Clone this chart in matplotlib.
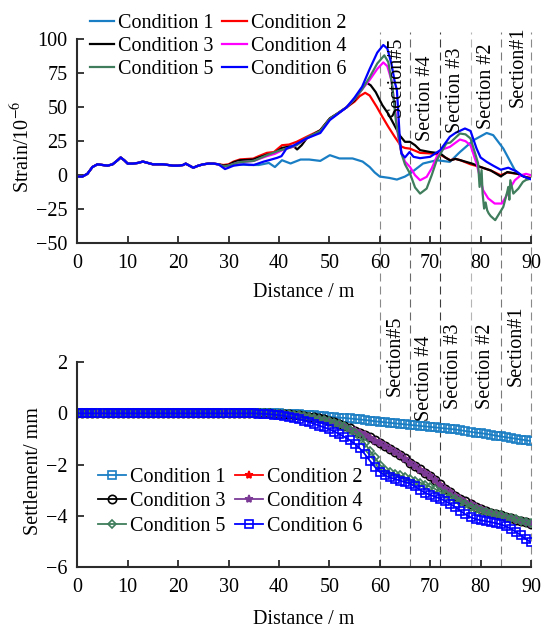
import matplotlib
matplotlib.use("Agg")
import matplotlib.pyplot as plt
from matplotlib import transforms
from matplotlib.lines import Line2D

plt.rcParams["font.family"] = ["Liberation Serif", "DejaVu Serif"]
plt.rcParams["mathtext.fontset"] = "stix"
FS = 14.5
plt.rcParams["font.size"] = FS

# ---- strain (top panel) ----
x_start = [0, 1, 2, 3, 4, 5, 6, 7, 8, 8.6, 9.3, 10, 11, 12, 13, 14, 15, 16,
           17, 18, 19, 20, 21, 21.5, 23, 24, 25, 26, 27, 28]
strain_start = [-1, -1, 1, 6, 8, 7.5, 7, 8, 11, 13, 11, 8.5, 8.5, 9, 10, 9,
                8, 8, 8, 7.5, 7, 7, 7.5, 8.5, 5.5, 7, 8, 8.5, 8.5, 8]

x_c1 = [29, 30, 32, 34, 36, 38, 39.2, 40.6, 42.3, 44.3, 46, 48.2, 50.1, 52,
        54.6, 56.6, 58, 59, 60, 61.9, 63.4, 65, 66, 68.6, 71.3, 73.9, 75.9,
        78.6, 81.2, 82.5, 84.5, 86.8, 88, 89, 90]
strain_c1 = [7, 7, 8, 7.5, 7.5, 9, 6, 11, 8.6, 11.5, 11.5, 10.5, 14.7, 12.3,
             12.3, 10, 6, 2, -1, -2, -3.2, -1, 1.2, 8.6, 11, 9.8, 17, 25.7,
             31, 29.4, 19.6, 3.7, 0, -1.5, -2]

x_c2 = [29, 30, 31, 32.3, 34.9, 36, 37.6, 39, 40.6, 42, 43.5, 45.5, 48.2,
        50.1, 51.5, 53.4, 55, 56, 57.1, 58, 59.4, 60.5, 61.7, 63, 64.3, 65,
        66, 68, 70, 72, 73, 74, 75, 76, 78, 80, 82, 84, 85.3, 87.4, 89, 90]
strain_c2 = [7.5, 8, 10, 11.6, 12.2, 14, 16.4, 17, 22, 22.5, 24.5, 28.2, 33,
             41.7, 45, 49.8, 54, 58, 60.5, 58.5, 50.2, 43, 35.5, 28, 21, 20,
             19.5, 16.4, 16, 15, 13, 11, 12, 11, 8, 6, 3.5, 0, 2, 1, -1.5, -2]

x_c3 = [29, 30, 31, 32.3, 34.9, 36, 37.6, 39, 40.6, 42, 43, 43.6, 44.5, 45.5,
        48.2, 50.1, 51.5, 53.4, 55, 56.3, 57.4, 58.2, 59.2, 60.5, 61.7, 63,
        64, 65, 66, 67, 68, 70, 72, 73, 74, 75, 76, 78.4, 80, 82, 84, 85.3,
        87.4, 89, 90]
strain_c3 = [7, 7.5, 9.5, 11, 11.5, 13, 15, 16, 20, 21, 21, 18.9, 22, 27, 33,
             41.7, 45, 49.8, 55, 63, 67.9, 66, 61, 51.5, 45, 36, 29, 24.5,
             24.5, 22, 18.4, 17, 16, 13, 10.8, 12, 11, 8.4, 6, 3.5, -0.9,
             2.3, 1, -1.5, -2.6]

x_c4 = [29, 30, 32, 35, 37.6, 39.2, 41, 43, 45.5, 48.2, 50.1, 53.4, 55, 56.5,
        58, 59.5, 60.7, 61.5, 62.3, 63, 63.6, 64.2, 65, 66, 67, 68, 69.3,
        70.3, 71.3, 72.5, 73.9, 75.9, 77, 78, 79.2, 80.5, 81.5, 82.8, 84.2,
        85, 85.8, 86.8, 88, 89, 90]
strain_c4 = [6, 7, 9.5, 10.5, 14, 15.7, 19, 21, 27, 32, 41, 49.8, 56, 63, 70,
             78, 82.8, 80, 70, 50, 30, 18, 10, 6, 0, -3.7, -1.2, 5, 13.5, 19,
             20.8, 26.2, 25, 22, 8.6, -11, -17, -20.8, -20.8, -16, -9.8,
             -3.7, 0, 1, 0]

x_c5 = [29, 30, 32, 35, 37.6, 40, 42, 43.5, 45.5, 48.2, 50.1, 53.4, 55, 56.5,
        58, 59.5, 60.9, 61.7, 62.5, 63.2, 64.3, 65, 66, 67, 68, 69.3, 70.3,
        71.3, 73.2, 74, 75.9, 77, 78, 79, 79.5, 79.8, 80.2, 80.4, 80.7, 81,
        81.3, 81.6, 82, 82.9, 84.5, 85.3, 85.5, 85.7, 85.9, 86.5, 87.5, 88.4,
        89, 90]
strain_c5 = [6.5, 7, 9.5, 10.5, 14.7, 18, 20, 22, 27.5, 32.5, 41.5, 49.8, 56,
             63, 72, 82, 88, 83, 65, 40, 15.9, 8, 1.2, -9, -13.5, -9.8, 0, 11,
             23.3, 24, 30.6, 30, 27, 15, 8.8, -8.6, 3.7, -13.5, -24.5, -20,
             -25.7, -28, -30, -33, -23.3, -12, -8.6, -18, -3.7, -13.5, -9.8,
             -4.9, -3.5, -2.5]

x_c6 = [29.3, 30, 31, 33, 35, 37, 38, 39.6, 40.5, 41.5, 43, 45.5, 48.2, 50.1,
        53.4, 55, 56.5, 58, 59.5, 60.7, 61.5, 62.3, 63, 63.4, 64, 64.3, 65,
        65.9, 66.7, 68, 70, 72, 73.9, 75, 76.9, 78, 79.2, 80, 81.2, 82.5, 84,
        85.5, 87, 88.5, 90]
strain_c6 = [4.5, 5.5, 7, 8, 7.5, 10, 11, 12.7, 14, 19.6, 22, 27, 31, 40.5,
             49.8, 57, 65, 78, 90, 95.6, 93, 82, 68, 62.5, 25.7, 15.9, 13, 17,
             13.5, 12.5, 13.5, 18.4, 28.2, 31, 34.3, 32.5, 19.6, 13, 9.8, 7,
             4, 5.5, 3, -1, -3]

# ---- settlement (bottom panel) ----
distance = list(range(0, 91))
settle_c1 = [0.0] * 41 + [
    -0.01, -0.02, -0.03, -0.04, -0.05, -0.07, -0.08, -0.10, -0.11, -0.13,
    -0.15, -0.17, -0.18, -0.20, -0.22, -0.24, -0.26, -0.28, -0.31, -0.33,
    -0.35, -0.37, -0.39, -0.41, -0.43, -0.45, -0.47, -0.49, -0.51, -0.53,
    -0.55, -0.57, -0.59, -0.61, -0.63, -0.66, -0.69, -0.72, -0.75, -0.77,
    -0.80, -0.83, -0.87, -0.90, -0.93, -0.96, -0.99, -1.02, -1.05, -1.08]
settle_c2 = [0.0] * 39 + [
    -0.01, -0.02, -0.03, -0.04, -0.05, -0.06, -0.09, -0.13, -0.17, -0.21,
    -0.25, -0.30, -0.36, -0.43, -0.51, -0.60, -0.68, -0.76, -0.85, -0.95,
    -1.06, -1.17, -1.28, -1.40, -1.52, -1.64, -1.77, -1.93, -2.06, -2.19,
    -2.32, -2.45, -2.60, -2.78, -2.94, -3.08, -3.22, -3.33, -3.44, -3.55,
    -3.65, -3.74, -3.82, -3.88, -3.93, -3.98, -4.04, -4.10, -4.16, -4.22,
    -4.27, -4.33]
settle_c3 = [0.0] * 39 + [
    -0.01, -0.02, -0.03, -0.04, -0.05, -0.06, -0.09, -0.13, -0.16, -0.20,
    -0.24, -0.29, -0.35, -0.42, -0.50, -0.59, -0.67, -0.75, -0.84, -0.94,
    -1.05, -1.16, -1.27, -1.39, -1.51, -1.63, -1.76, -1.92, -2.05, -2.18,
    -2.31, -2.44, -2.59, -2.77, -2.93, -3.07, -3.21, -3.32, -3.43, -3.54,
    -3.64, -3.73, -3.81, -3.87, -3.92, -3.97, -4.03, -4.09, -4.15, -4.20,
    -4.25, -4.30]
settle_c4 = [0.0] * 39 + [
    -0.01, -0.02, -0.03, -0.04, -0.05, -0.06, -0.09, -0.13, -0.17, -0.21,
    -0.25, -0.30, -0.36, -0.43, -0.51, -0.60, -0.68, -0.76, -0.85, -0.95,
    -1.06, -1.17, -1.28, -1.40, -1.52, -1.64, -1.77, -1.93, -2.06, -2.19,
    -2.32, -2.45, -2.60, -2.78, -2.94, -3.08, -3.22, -3.33, -3.44, -3.54,
    -3.64, -3.73, -3.81, -3.87, -3.92, -3.97, -4.03, -4.09, -4.15, -4.20,
    -4.25, -4.30]
settle_c5 = [0.0] * 39 + [
    -0.01, -0.02, -0.03, -0.04, -0.05, -0.06, -0.09, -0.13, -0.17, -0.21,
    -0.25, -0.30, -0.36, -0.43, -0.51, -0.65, -0.77, -0.92, -1.15, -1.45,
    -1.72, -2.00, -2.20, -2.30, -2.36, -2.42, -2.50, -2.57, -2.63, -2.70,
    -2.78, -2.86, -2.95, -3.05, -3.15, -3.25, -3.35, -3.45, -3.55, -3.64,
    -3.72, -3.79, -3.85, -3.90, -3.94, -3.98, -4.03, -4.08, -4.13, -4.18,
    -4.23, -4.28]
settle_c6 = [0.0] * 36 + [
    -0.01, -0.02, -0.03, -0.05, -0.07, -0.10, -0.14, -0.18, -0.23, -0.28,
    -0.34, -0.41, -0.48, -0.55, -0.62, -0.71, -0.81, -0.92, -1.04, -1.18,
    -1.36, -1.58, -1.84, -2.08, -2.28, -2.42, -2.50, -2.56, -2.62, -2.68,
    -2.74, -2.85, -2.98, -3.10, -3.18, -3.25, -3.32, -3.42, -3.53, -3.66,
    -3.80, -3.94, -4.05, -4.12, -4.17, -4.20, -4.24, -4.28, -4.33, -4.40,
    -4.50, -4.62, -4.75, -4.90, -5.03]

labels = ["Condition 1", "Condition 2", "Condition 3",
          "Condition 4", "Condition 5", "Condition 6"]
sections = [60, 66, 72, 78, 84, 90]
section_names = ["Section#5", "Section #4", "Section #3", "Section #2", "Section#1"]

c_light = "#1a7ec4"
c_green = "#3f7d5c"
c_purple = "#7b3a96"

W, H = 545, 628
fig = plt.figure(figsize=(W / 100, H / 100), dpi=100)
ax1 = fig.add_axes([77.3 / W, 1 - 243.3 / H, 453.7 / W, 204.3 / H])
ax2 = fig.add_axes([77.3 / W, 1 - 567.3 / H, 453.7 / W, 205.3 / H])


def style_axes(ax):
    for side in ("top", "right"):
        ax.spines[side].set_visible(False)
    for side in ("left", "bottom"):
        ax.spines[side].set_linewidth(1.5)
        ax.spines[side].set_color("#2b2b2b")
    ax.tick_params(direction="in", length=5, width=1.3, color="#2b2b2b",
                   labelsize=FS)
    ax.tick_params(axis="x", pad=8)
    ax.tick_params(axis="y", pad=7)
    ax.patch.set_visible(False)


# top panel
ax1.plot(x_start + x_c1, strain_start + strain_c1, color=c_light, lw=1.6, label=labels[0])
ax1.plot(x_start + x_c2, strain_start + strain_c2, color="#ff0000", lw=1.6, label=labels[1])
ax1.plot(x_start + x_c3, strain_start + strain_c3, color="black", lw=1.6, label=labels[2])
ax1.plot(x_start + x_c4, strain_start + strain_c4, color="#ff00ff", lw=1.6, label=labels[3])
ax1.plot(x_start + x_c5, strain_start + strain_c5, color=c_green, lw=1.6, label=labels[4])
ax1.plot(x_start + x_c6, strain_start + strain_c6, color="#0000ff", lw=1.6, label=labels[5])
ax1.set_xlim(0, 90)
ax1.set_ylim(-50, 100)
ax1.set_xticks(range(0, 91, 10))
ax1.set_yticks([-50, -25, 0, 25, 50, 75, 100])
style_axes(ax1)

h1, l1 = ax1.get_legend_handles_labels()
order = [0, 2, 4, 1, 3, 5]
fig.legend([h1[i] for i in order], [l1[i] for i in order], ncol=2,
           loc="upper left", bbox_to_anchor=(89.7 / W, 1 - 14.4 / H),
           frameon=False, fontsize=FS, handlelength=1.2, handletextpad=0.2,
           columnspacing=0.45, labelspacing=0.19, borderpad=0, borderaxespad=0)

# bottom panel
mk = dict(lw=1.3, ms=6, mew=1.2)
ax2.plot(distance, settle_c1, color=c_light, marker="s", mfc="none", label=labels[0], **mk)
ax2.plot(distance, settle_c2, color="#ff0000", marker="*", label=labels[1], **mk)
ax2.plot(distance, settle_c3, color="black", marker="o", mfc="none", label=labels[2], **mk)
ax2.plot(distance, settle_c4, color=c_purple, marker="*", label=labels[3], **mk)
ax2.plot(distance, settle_c5, color=c_green, marker="D", ms=4.5, mew=1.2, lw=1.3,
         mfc="none", label=labels[4])
ax2.plot(distance, settle_c6, color="#0000ff", marker="s", mfc="none", label=labels[5], **mk)
ax2.set_xlim(0, 90)
ax2.set_ylim(-6, 2)
ax2.set_xticks(range(0, 91, 10))
ax2.set_yticks([-6, -4, -2, 0, 2])
style_axes(ax2)

h2, l2 = ax2.get_legend_handles_labels()
fig.legend([h2[i] for i in order], [l2[i] for i in order], ncol=2,
           loc="upper left", bbox_to_anchor=(98 / W, 1 - 467.7 / H),
           frameon=False, fontsize=FS, handlelength=1.4, handletextpad=0.2,
           columnspacing=0.45, labelspacing=0.27, borderpad=0, borderaxespad=0)

# section lines spanning both panels
sec_colors = ["#8a8a8a", "#6a6a6a", "#3c3c3c", "#b5b5b5", "#7a7a7a", "#8a8a8a"]
trans = transforms.blended_transform_factory(ax2.transData, fig.transFigure)
for xs, col in zip(sections, sec_colors):
    fig.add_artist(Line2D([xs, xs], [1 - 567.3 / H, 1 - 32 / H], transform=trans,
                          color=col, lw=0.8, dashes=(7.2, 4.5), zorder=-1))

top_pos = [(63.2, 0.814), (69.0, 0.711), (75.1, 0.749), (81.2, 0.768), (87.4, 0.866)]
bot_pos = [(63.0, 1.029), (68.8, 0.922), (74.7, 0.981), (80.9, 0.981), (87.1, 1.078)]
for ax, pos in ((ax1, top_pos), (ax2, bot_pos)):
    tr = transforms.blended_transform_factory(ax.transData, ax.transAxes)
    for name, (xp, yp) in zip(section_names, pos):
        ax.text(xp, yp, name, transform=tr, rotation=90, ha="center",
                va="center", fontsize=FS, clip_on=False)

fig.text(22.6 / W, 1 - 147 / H, r"Strain/10$^{-6}$", rotation=90,
         ha="center", va="center", fontsize=FS)
fig.text(304 / W, 1 - 293 / H, "Distance / m", ha="center", va="center", fontsize=FS)
fig.text(33 / W, 1 - 471 / H, "Settlement/ mm", rotation=90,
         ha="center", va="center", fontsize=FS)
fig.text(304 / W, 1 - 620 / H, "Distance / m", ha="center", va="center", fontsize=FS)

fig.savefig("out.png", dpi=100)
